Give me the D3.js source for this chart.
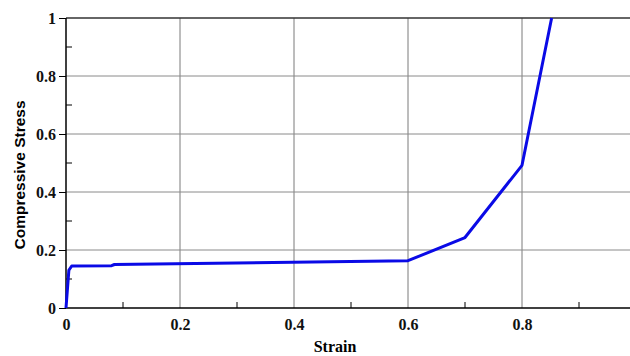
<!DOCTYPE html>
<html>
<head>
<meta charset="utf-8">
<script src="https://cdn.jsdelivr.net/npm/d3@7"></script>
<style>
  body { margin: 0; background: #fff; }
</style>
</head>
<body>
<script>
(function(){

    // data
    var strain = [0, 0.005, 0.01, 0.08, 0.085, 0.6, 0.7, 0.8, 0.852];
    var stress = [0, 0.13, 0.145, 0.146, 0.15, 0.163, 0.243, 0.492, 1.0];
    var xTicks = [0, 0.2, 0.4, 0.6, 0.8];
    var xMinor = [0.1, 0.3, 0.5, 0.7, 0.9];
    var yTicks = [0, 0.2, 0.4, 0.6, 0.8, 1];
    var yMinor = [0.1, 0.3, 0.5, 0.7, 0.9];

    var width = 630, height = 356;
    var margin = {left: 66, top: 18, bottom: 48};

    var svg = d3.select("body").append("svg")
        .attr("width", width)
        .attr("height", height);

    var x = d3.scaleLinear().domain([0, 1]).range([margin.left, margin.left + 570]);
    var y = d3.scaleLinear().domain([0, 1]).range([height - margin.bottom, margin.top]);

    // grid
    svg.append("g").selectAll("line.vg")
        .data(xTicks.slice(1))
        .enter().append("line")
        .attr("x1", function(d){ return x(d); })
        .attr("x2", function(d){ return x(d); })
        .attr("y1", y(0)).attr("y2", y(1))
        .attr("stroke", "#7a7a7a").attr("stroke-width", 1);

    svg.append("g").selectAll("line.hg")
        .data(yTicks.slice(1))
        .enter().append("line")
        .attr("x1", x(0)).attr("x2", width)
        .attr("y1", function(d){ return y(d); })
        .attr("y2", function(d){ return y(d); })
        .attr("stroke", function(d){ return d === 1 ? "#333" : "#8a8a8a"; })
        .attr("stroke-width", function(d){ return d === 1 ? 1.5 : 1; });

    // minor ticks, pointing inward
    svg.append("g").selectAll("line")
        .data(xMinor).enter().append("line")
        .attr("x1", function(d){ return x(d); }).attr("x2", function(d){ return x(d); })
        .attr("y1", y(0)).attr("y2", y(0) - 6)
        .attr("stroke", "#000");
    svg.append("g").selectAll("line")
        .data(yMinor).enter().append("line")
        .attr("y1", function(d){ return y(d); }).attr("y2", function(d){ return y(d); })
        .attr("x1", x(0)).attr("x2", x(0) + 6)
        .attr("stroke", "#000");

    // axes
    var xAxis = svg.append("g")
        .attr("transform", "translate(0," + y(0) + ")")
        .call(d3.axisBottom(x).tickValues(xTicks).tickSize(0).tickPadding(11)
            .tickFormat(d3.format("~g")));
    xAxis.select(".domain").attr("d", "M" + x(0) + ",0H" + width).attr("stroke", "#000").attr("stroke-width", 1.5);

    var yAxis = svg.append("g")
        .attr("transform", "translate(" + x(0) + ",0)")
        .call(d3.axisLeft(y).tickValues(yTicks).tickSize(7).tickPadding(3)
            .tickFormat(d3.format("~g")));
    yAxis.select(".domain").attr("d", "M0," + y(0) + "V" + y(1)).attr("stroke", "#000").attr("stroke-width", 1.5);
    yAxis.selectAll(".tick text").attr("dy", "0.36em");

    svg.selectAll(".tick text")
        .attr("font-family", "'Liberation Serif', 'Times New Roman', serif")
        .attr("font-weight", "bold")
        .attr("font-size", 16)
        .attr("fill", "#111");

    // curve
    var pts = strain.map(function(d, i){ return [d, stress[i]]; });
    svg.append("path")
        .datum(pts)
        .attr("fill", "none")
        .attr("stroke", "#0a0ae6")
        .attr("stroke-width", 3)
        .attr("stroke-linejoin", "round")
        .attr("d", d3.line()
            .x(function(d){ return x(d[0]); })
            .y(function(d){ return y(d[1]); }));

    // axis titles
    svg.append("text")
        .attr("x", 335).attr("y", 352)
        .attr("text-anchor", "middle")
        .style("font-family", "'Liberation Serif', serif")
        .style("font-weight", "bold")
        .style("font-size", "16px")
        .text("Strain");

    svg.append("text")
        .attr("transform", "translate(25,175) rotate(-90)")
        .attr("text-anchor", "middle")
        .style("font-family", "'Liberation Sans', Arial, sans-serif")
        .style("font-weight", "bold")
        .style("font-size", "15.5px")
        .text("Compressive Stress");

})();
</script>
</body>
</html>
